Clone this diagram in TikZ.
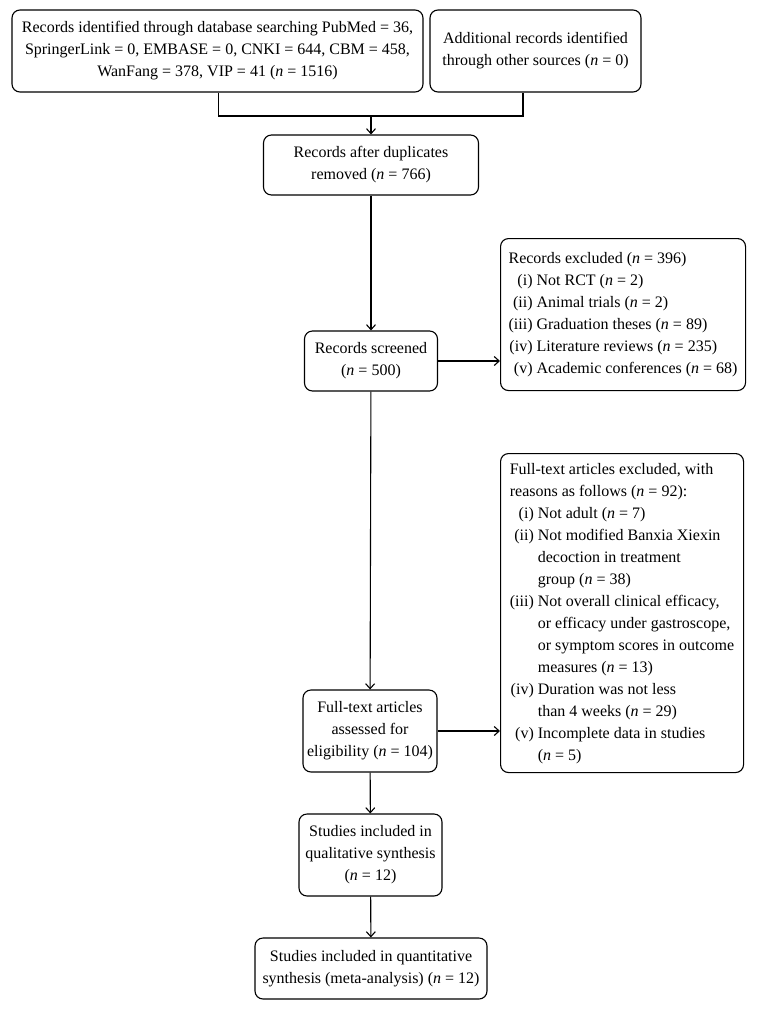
\documentclass[tikz,border=0pt]{standalone}
\usepackage{fontspec}
\setmainfont{Liberation Serif}
\usetikzlibrary{arrows.meta}
\newcommand{\nn}{\textit{n}}
\begin{document}
\begin{tikzpicture}[x=1pt,y=1pt,
  box/.style={draw, line width=1.1pt, rounded corners=8pt, inner sep=3pt,
    font=\fontsize{16}{22}\selectfont, align=center},
  lbox/.style={box, align=left},
  conn/.style={line width=1.1pt},
  arr/.style={conn, -{Straight Barb[length=5pt,width=9pt]}}]
\useasboundingbox (0,0) rectangle (756,-1010);
\fill[white] (0,0) rectangle (756,-1010);

\node[box, minimum width=411pt, minimum height=82pt] (b1) at (217.5,-51)
  {Records identified through database searching PubMed = 36,\\
   SpringerLink = 0, EMBASE = 0, CNKI = 644, CBM = 458,\\
   WanFang = 378, VIP = 41 (\nn{} = 1516)};
\node[box, minimum width=211pt, minimum height=82pt] (b2) at (535.5,-51)
  {Additional records identified\\ through other sources (\nn{} = 0)};
\node[box, minimum width=215pt, minimum height=60pt] (b3) at (371,-165)
  {Records after duplicates\\ removed (\nn{} = 766)};
\node[box, minimum width=133pt, minimum height=60pt] (b4) at (371,-361)
  {Records screened\\ (\nn{} = 500)};
\node[lbox, minimum width=245pt, minimum height=152pt, anchor=north west] (b5) at (500,-238)
  {\begin{tabular}{@{}r@{\ }l@{}}
   \multicolumn{2}{@{}l@{}}{Records excluded (\nn{} = 396)}\\
   (i) & Not RCT (\nn{} = 2)\\
   (ii) & Animal trials (\nn{} = 2)\\
   (iii) & Graduation theses (\nn{} = 89)\\
   (iv) & Literature reviews (\nn{} = 235)\\
   (v) & Academic conferences (\nn{} = 68)
   \end{tabular}};
\node[lbox, minimum width=243pt, minimum height=319pt, anchor=north west] (b6) at (500,-453)
  {\begin{tabular}{@{}r@{\ }l@{}}
   \multicolumn{2}{@{}l@{}}{Full-text articles excluded, with}\\
   \multicolumn{2}{@{}l@{}}{reasons as follows (\nn{} = 92):}\\
   (i) & Not adult (\nn{} = 7)\\
   (ii) & Not modified Banxia Xiexin\\
        & decoction in treatment\\
        & group (\nn{} = 38)\\
   (iii) & Not overall clinical efficacy,\\
         & or efficacy under gastroscope,\\
         & or symptom scores in outcome\\
         & measures (\nn{} = 13)\\
   (iv) & Duration was not less\\
        & than 4 weeks (\nn{} = 29)\\
   (v) & Incomplete data in studies\\
       & (\nn{} = 5)
   \end{tabular}};
\node[box, minimum width=134pt, minimum height=82pt] (b7) at (370,-731)
  {Full-text articles\\ assessed for\\ eligibility (\nn{} = 104)};
\node[box, minimum width=143pt, minimum height=82pt] (b8) at (370.5,-855)
  {Studies included in\\ qualitative synthesis\\ (\nn{} = 12)};
\node[box, minimum width=232pt, minimum height=61pt] (b9) at (371,-968.5)
  {Studies included in quantitative\\ synthesis (meta-analysis) (\nn{} = 12)};

\coordinate (j1) at (218.5,-116);
\coordinate (j2) at (523,-116);
\coordinate (jm) at (371,-116);
\draw[conn] (b1.south -| j1) -- (j1) -- (j2) -- (b2.south -| j2);
\draw[arr] (jm) -- (b3.north);
\draw[arr] (b3) -- (b4);
\draw[arr] (b4.east) -- (b4.east -| b5.west);
\draw[arr] (b4) -- (b7);
\draw[arr] (b7.east) -- (b7.east -| b6.west);
\draw[arr] (b7) -- (b8);
\draw[arr] (b8) -- (b9);
\end{tikzpicture}
\end{document}
